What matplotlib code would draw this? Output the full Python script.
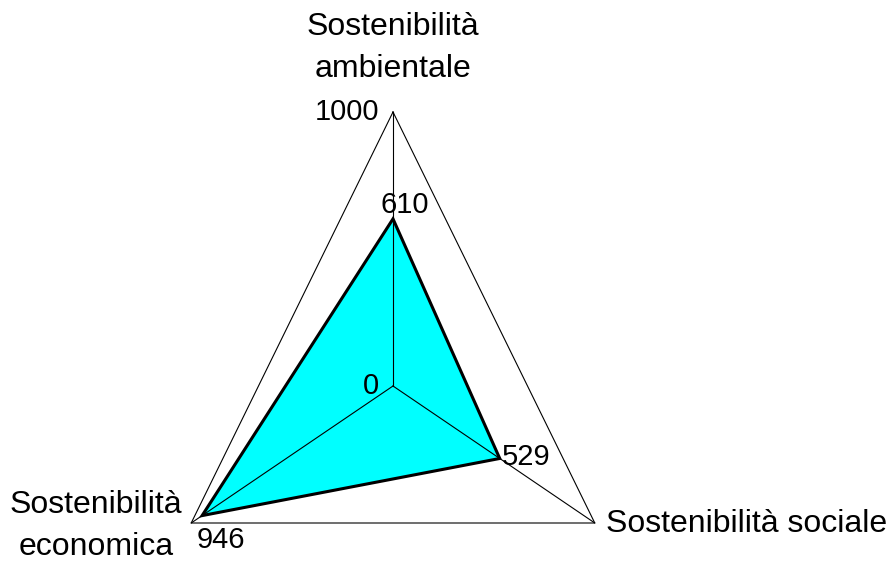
import numpy as np
import matplotlib
matplotlib.use("Agg")
import matplotlib.pyplot as plt

# data
categories = ["Sostenibilità\nambientale", "Sostenibilità sociale", "Sostenibilità\neconomica"]
values = [610, 529, 946]
r_max = 1000

plt.rcParams['font.family'] = ['Liberation Sans', 'DejaVu Sans']

fig = plt.figure(figsize=(8.96, 5.68), dpi=100)
ax = fig.add_axes([0, 0, 1, 1])
ax.set_axis_off()

# pixel scale: center at (393, 386), x 0.233 px/unit, y 0.274 px/unit
sx, sy = 0.233, 0.274
cx, cy = 393, 386
ax.set_xlim(-cx / sx, (896 - cx) / sx)
ax.set_ylim((cy - 568) / sy, cy / sy)

angles = np.deg2rad([0, 120, 240])

def xy(r, a):
    return r * np.sin(a), r * np.cos(a)

# outer frame and spokes
ox, oy = xy(r_max, angles)
ax.plot(np.append(ox, ox[0]), np.append(oy, oy[0]), color='black', lw=0.8, zorder=1)

# data polygon
vx, vy = xy(np.array(values), angles)
ax.fill(vx, vy, facecolor='#00ffff', edgecolor='black', lw=2.2, zorder=2)

for x, y in zip(ox, oy):
    ax.plot([0, x], [0, y], color='black', lw=0.8, zorder=3)

fs = 23
# axis labels
ax.text(0, (cy - 48) / sy, categories[0], ha='center', va='center', fontsize=fs,
        linespacing=1.55)
ax.text((606 - cx) / sx, (cy - 524) / sy, categories[1], ha='left', va='center', fontsize=fs)
ax.text((96 - cx) / sx, (cy - 526) / sy, categories[2], ha='center', va='center', fontsize=fs,
        linespacing=1.55)

# value labels
vfs = 21
ax.text((379 - cx) / sx, (cy - 112) / sy, "1000", ha='right', va='center', fontsize=vfs)
ax.text((405 - cx) / sx, (cy - 205) / sy, str(values[0]), ha='center', va='center', fontsize=vfs)
ax.text((379 - cx) / sx, (cy - 386) / sy, "0", ha='right', va='center', fontsize=vfs)
ax.text((502 - cx) / sx, (cy - 457) / sy, str(values[1]), ha='left', va='center', fontsize=vfs)
ax.text((197 - cx) / sx, (cy - 540) / sy, str(values[2]), ha='left', va='center', fontsize=vfs)

fig.savefig("out.png", dpi=100)
